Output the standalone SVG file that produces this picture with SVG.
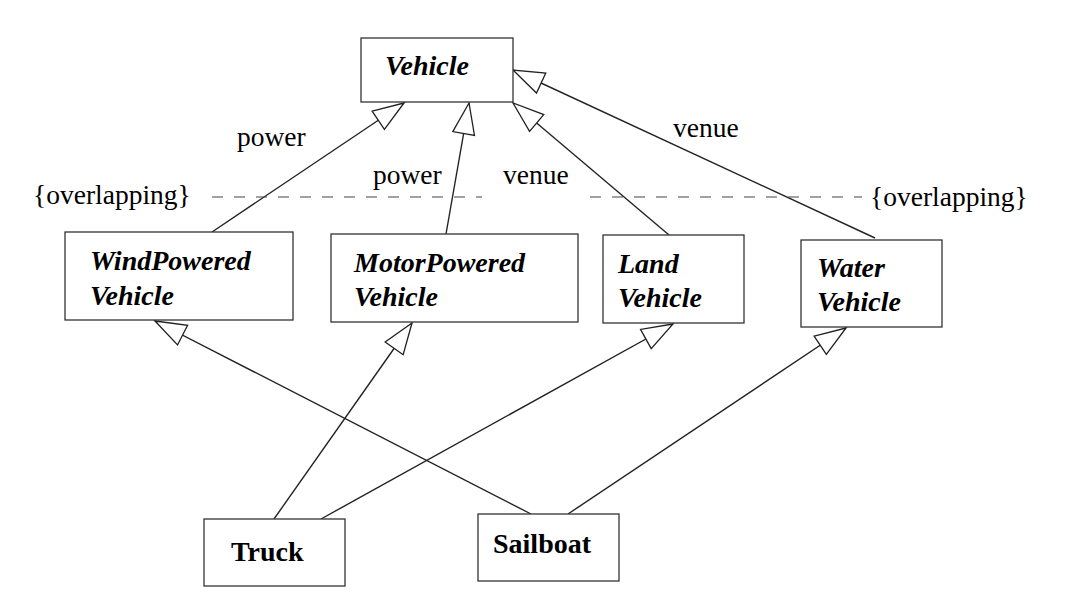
<svg xmlns="http://www.w3.org/2000/svg" width="1080" height="613" viewBox="0 0 1080 613">
<style>
.box{fill:#fff;stroke:#333;stroke-width:1.3}
.cls{font-weight:bold;font-style:italic;font-size:28px;fill:#000}
.cb{font-weight:bold;font-size:28px;fill:#000}
.lbl{font-size:27.5px;fill:#000}
.edge{fill:none;stroke:#222;stroke-width:1.4;marker-end:url(#gen)}
.dash{fill:none;stroke:#444;stroke-width:1.2;stroke-dasharray:11 11}
</style>
<defs>
<marker id="gen" viewBox="-33 -13 36 26" refX="0" refY="0" markerWidth="36" markerHeight="26" markerUnits="userSpaceOnUse" orient="auto">
<path d="M0,0 L-31,-11 L-31,11 Z" fill="#fff" stroke="#222" stroke-width="1.3" stroke-linejoin="miter"/>
</marker>
</defs>
<rect width="1080" height="613" fill="#fff"/>
<g id="connectors">
<line class="edge" x1="212" y1="232" x2="404" y2="103"/>
<line class="edge" x1="446" y1="234" x2="469" y2="103"/>
<line class="edge" x1="669" y1="235" x2="513" y2="103"/>
<line class="edge" x1="875" y1="238" x2="513" y2="70"/>
<line class="edge" x1="274" y1="519" x2="412" y2="323"/>
<line class="edge" x1="321" y1="519" x2="673" y2="324"/>
<line class="edge" x1="531" y1="514" x2="155" y2="321"/>
<line class="edge" x1="568" y1="514" x2="846" y2="328"/>
</g>
<g font-family="Liberation Serif, DejaVu Serif, serif">
<g id="constraint">
<line class="dash" x1="212" y1="197" x2="482" y2="197"/>
<line class="dash" x1="590" y1="197" x2="862" y2="197"/>
<text class="lbl" x="33" y="204">{overlapping}</text>
<text class="lbl" x="870" y="206">{overlapping}</text>
</g>
<g id="labels">
<text class="lbl" x="237" y="146">power</text>
<text class="lbl" x="373" y="184">power</text>
<text class="lbl" x="503" y="184">venue</text>
<text class="lbl" x="673" y="137">venue</text>
</g>
<g id="vehicle">
<rect class="box" x="361" y="38" width="152" height="64"/>
<text class="cls" x="385" y="75">Vehicle</text>
</g>
<g id="windpowered">
<rect class="box" x="65" y="232" width="228" height="88"/>
<text class="cls" x="90" y="270">WindPowered</text>
<text class="cls" x="90" y="305">Vehicle</text>
</g>
<g id="motorpowered">
<rect class="box" x="331" y="234" width="247" height="88"/>
<text class="cls" x="354" y="272">MotorPowered</text>
<text class="cls" x="354" y="306">Vehicle</text>
</g>
<g id="land">
<rect class="box" x="603" y="235" width="141" height="88"/>
<text class="cls" x="618" y="273">Land</text>
<text class="cls" x="618" y="307">Vehicle</text>
</g>
<g id="water">
<rect class="box" x="801" y="240" width="141" height="87"/>
<text class="cls" x="817" y="277">Water</text>
<text class="cls" x="817" y="311">Vehicle</text>
</g>
<g id="truck">
<rect class="box" x="204" y="519" width="141" height="67"/>
<text class="cb" x="231" y="561">Truck</text>
</g>
<g id="sailboat">
<rect class="box" x="478" y="514" width="141" height="67"/>
<text class="cb" x="493" y="553">Sailboat</text>
</g>
</g>
</svg>
